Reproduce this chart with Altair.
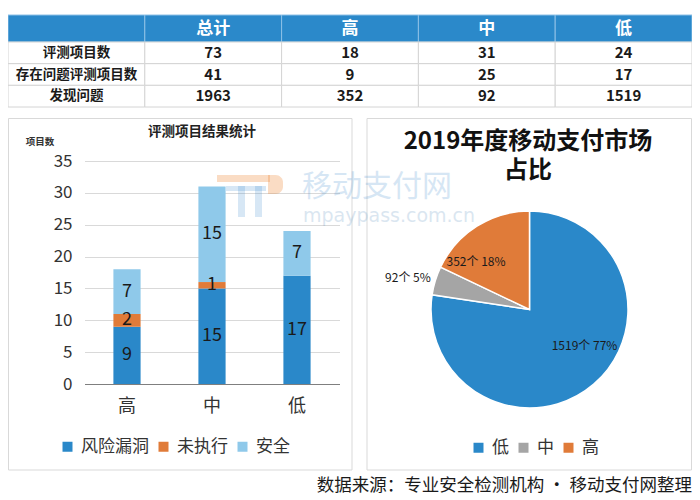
import altair as alt
import pandas as pd

FONT = "Noto Sans CJK SC"

# ---------------- data ----------------
table_header = ["", "总计", "高", "中", "低"]
table_row_labels = ["评测项目数", "存在问题评测项目数", "发现问题"]
table_total = [73, 41, 1963]
table_high = [18, 9, 352]
table_mid = [31, 25, 92]
table_low = [24, 17, 1519]

bar_levels = ["高", "中", "低"]
bar_series = ["风险漏洞", "未执行", "安全"]
bar_vuln = [9, 15, 17]
bar_unexec = [2, 1, 0]
bar_safe = [7, 15, 7]
bar_y_ticks = [0, 5, 10, 15, 20, 25, 30, 35]

pie_cats = ["低", "中", "高"]
pie_vals = [1519, 92, 352]

bar_title = "评测项目结果统计"
bar_y_title = "项目数"
pie_title_lines = ["2019年度移动支付市场", "占比"]
source_note = "数据来源：专业安全检测机构 • 移动支付网整理"
watermark_cn = "移动支付网"
watermark_en = "mpaypass.com.cn"

# ---------------- style / layout ----------------
W, H = 684, 490
BLUE = "#2A88C9"
ORANGE = "#E07B39"
LIGHT = "#8FC9EA"
GRAY = "#A5A5A5"
HEAD = "#2B89CA"
TXT = "#1a1a1a"

col_keys = [f"c{i}" for i in range(5)]
row_keys = [f"r{i}" for i in range(3)]

header_df = pd.DataFrame({"col": col_keys, "row": ["h"] * 5, "t": table_header})
cols_data = [table_row_labels, table_total, table_high, table_mid, table_low]
body_df = pd.DataFrame([
    {"col": col_keys[ci], "row": row_keys[ri], "t": str(cols_data[ci][ri]), "first": ci == 0}
    for ri in range(3) for ci in range(5)
])

def tx_band():
    return alt.X("col:N", scale=alt.Scale(type="band", domain=col_keys, range=[0, W],
                                          paddingInner=0, paddingOuter=0), axis=None)

def tx_point():
    return alt.X("col:N", scale=alt.Scale(type="point", domain=col_keys, range=[0, W],
                                          padding=0.5), axis=None)

HEAD_Y = [7, 34]
BODY_Y = [34, 99]

head_rect = alt.Chart(header_df).mark_rect(fill=HEAD, stroke="#8DC0E6", strokeWidth=1).encode(
    x=tx_band(),
    y=alt.Y("row:N", scale=alt.Scale(type="band", domain=["h"], range=HEAD_Y,
                                     paddingInner=0, paddingOuter=0), axis=None),
)
head_text = alt.Chart(header_df).mark_text(color="white", fontWeight="bold", fontSize=17,
                                           font=FONT, baseline="middle").encode(
    x=tx_point(),
    y=alt.Y("row:N", scale=alt.Scale(type="point", domain=["h"], range=HEAD_Y, padding=0.5), axis=None),
    text="t:N",
)
body_rect = alt.Chart(body_df).mark_rect(fill="white", stroke="#D4D4D4", strokeWidth=1).encode(
    x=tx_band(),
    y=alt.Y("row:N", scale=alt.Scale(type="band", domain=row_keys, range=BODY_Y,
                                     paddingInner=0, paddingOuter=0), axis=None),
)
body_text = alt.Chart(body_df).mark_text(color=TXT, fontWeight="bold",
                                         font=FONT, baseline="middle").encode(
    x=tx_point(),
    y=alt.Y("row:N", scale=alt.Scale(type="point", domain=row_keys, range=BODY_Y, padding=0.5), axis=None),
    text="t:N",
    size=alt.condition("datum.first", alt.value(13.5), alt.value(15)),
)

one = pd.DataFrame({"k": [0]})

def deco_rect(x1, x2, y1, y2, **kw):
    return alt.Chart(one).mark_rect(**kw).encode(
        x=alt.value(x1), x2=alt.value(x2), y=alt.value(y1), y2=alt.value(y2))

panel_bar = deco_rect(0.5, 344, 110.5, 462, fill="transparent", stroke="#D9D9D9", strokeWidth=1)
panel_pie = deco_rect(359, 683.5, 110.5, 462, fill="transparent", stroke="#D9D9D9", strokeWidth=1)

# ---------------- bar chart ----------------
series_vals = [bar_vuln, bar_unexec, bar_safe]
bar_df = pd.DataFrame([
    {"level": lv, "series": s, "value": series_vals[si][li], "sidx": si}
    for li, lv in enumerate(bar_levels) for si, s in enumerate(bar_series)
])

Y0, Y35 = 376, 153
bx_scale = dict(domain=bar_levels, range=[76.5, 331.5])

legend_common = dict(title=None, orient="none", direction="horizontal", symbolType="square",
                     symbolSize=100, symbolStrokeWidth=0, labelFontSize=17, labelFont=FONT,
                     labelColor="#333", labelOffset=5, columnPadding=6, padding=0)

bars = alt.Chart(bar_df).mark_bar().encode(
    x=alt.X("level:N", sort=bar_levels,
            scale=alt.Scale(type="band", paddingInner=0.68, paddingOuter=0.34, **bx_scale),
            axis=alt.Axis(orient="bottom", offset=Y0 - H, title=None, ticks=False, labelPadding=13,
                          labelFontSize=18, labelFont=FONT, labelColor="#333", labelAngle=0,
                          domainColor="#7F7F7F", grid=False)),
    y=alt.Y("value:Q", stack="zero",
            scale=alt.Scale(domain=[0, 35], range=[Y0, Y35], nice=False),
            axis=alt.Axis(orient="left", offset=-64, values=bar_y_ticks, title=None, ticks=False,
                          domain=False, labelPadding=0, labelFontSize=17, labelFont=FONT,
                          labelColor="#333", labelFlush=False, grid=True, gridColor="#D9D9D9")),
    color=alt.Color("series:N", scale=alt.Scale(domain=bar_series, range=[BLUE, ORANGE, LIGHT]),
                    legend=alt.Legend(legendX=51, legendY=430, **legend_common)),
    order=alt.Order("sidx:Q", sort="ascending"),
)

bar_labels = alt.Chart(bar_df).transform_stack(
    stack="value", groupby=["level"], as_=["y0", "y1"],
    sort=[alt.SortField("sidx", order="ascending")],
).transform_calculate(mid="(datum.y0 + datum.y1) / 2").transform_filter("datum.value > 0").mark_text(
    fontSize=18, font=FONT, color=TXT, baseline="middle").encode(
    x=alt.X("level:N", scale=alt.Scale(type="point", padding=0.5, **bx_scale), axis=None),
    y=alt.Y("mid:Q", scale=alt.Scale(domain=[0, 35], range=[Y0, Y35], nice=False), axis=None),
    text="value:Q",
)

bar_title_t = alt.Chart(pd.DataFrame({"t": [bar_title]})).mark_text(
    fontSize=13.5, fontWeight="bold", font=FONT, color="#222", baseline="middle").encode(
    x=alt.value(194), y=alt.value(124), text="t:N")
bar_ytitle_t = alt.Chart(pd.DataFrame({"t": [bar_y_title]})).mark_text(
    fontSize=9.5, fontWeight="bold", font=FONT, color="#333", baseline="middle").encode(
    x=alt.value(32), y=alt.value(134), text="t:N")

# ---------------- pie chart ----------------
total = sum(pie_vals)
pie_df = pd.DataFrame({
    "cat": pie_cats,
    "value": pie_vals,
    "idx": list(range(len(pie_cats))),
    "label": [f"{v}个 {round(v * 100 / total)}%" for v in pie_vals],
})
CX, CY = 521.5, 301.5
theta_scale = alt.Scale(domain=[0, total])

pie = alt.Chart(pie_df).mark_arc(outerRadius=98.5, stroke="white", strokeWidth=1.5).encode(
    theta=alt.Theta("value:Q", stack=True, scale=theta_scale),
    color=alt.Color("cat:N", scale=alt.Scale(domain=pie_cats, range=[BLUE, GRAY, ORANGE]),
                    legend=alt.Legend(legendX=462, legendY=431, **legend_common)),
    order=alt.Order("idx:Q", sort="ascending"),
    x=alt.value(CX), y=alt.value(CY),
)

def pie_label(cat, radius, dx, dy):
    return alt.Chart(pie_df).transform_window(
        cum="sum(value)", sort=[alt.SortField("idx", order="ascending")], frame=[None, 0]
    ).transform_calculate(mid="datum.cum - datum.value / 2").transform_filter(
        f"datum.cat == '{cat}'"
    ).mark_text(radius=radius, dx=dx, dy=dy, fontSize=12, font=FONT, color=TXT,
                baseline="middle").encode(
        theta=alt.Theta("mid:Q", scale=theta_scale),
        x=alt.value(CX), y=alt.value(CY),
        text="label:N",
    )

pie_lab_low = pie_label("低", 66, 12, -14)
pie_lab_mid = pie_label("中", 125, -2, 5)
pie_lab_high = pie_label("高", 72, -15, 13)

pie_title_t = alt.Chart(pd.DataFrame({"t": pie_title_lines, "i": [0, 1]})).mark_text(
    fontSize=24, fontWeight="bold", font=FONT, color="#111", baseline="middle").encode(
    x=alt.value(520),
    y=alt.Y("i:O", scale=alt.Scale(type="point", domain=[0, 1], range=[134, 163], padding=0), axis=None),
    text="t:N")

# ---------------- watermark & source ----------------
WM_BLUE = dict(fill="#4A90D0", opacity=0.22)
WM_ORANGE = dict(fill="#F08A3C", opacity=0.3)
logo = [
    deco_rect(209, 262, 167, 174, **WM_ORANGE),
    deco_rect(260, 275, 167, 186, cornerRadiusTopRight=8, cornerRadiusBottomRight=8, **WM_ORANGE),
    deco_rect(218, 258, 178, 183, **WM_BLUE),
    deco_rect(230, 237, 178, 209, **WM_BLUE),
    deco_rect(247, 254, 178, 209, **WM_BLUE),
]
wm_cn = alt.Chart(pd.DataFrame({"t": [watermark_cn]})).mark_text(
    fontSize=30, font=FONT, color="#4A90D0", opacity=0.22, baseline="middle", align="left").encode(
    x=alt.value(294), y=alt.value(179), text="t:N")
wm_en = alt.Chart(pd.DataFrame({"t": [watermark_en]})).mark_text(
    fontSize=19, font="DejaVu Sans", color="#5A8FC0", opacity=0.22, baseline="middle", align="left").encode(
    x=alt.value(295), y=alt.value(208), text="t:N")

source_t = alt.Chart(pd.DataFrame({"t": [source_note]})).mark_text(
    fontSize=17.5, font=FONT, color=TXT, baseline="middle", align="right").encode(
    x=alt.value(684), y=alt.value(478), text="t:N")

chart = alt.layer(
    bars, bar_labels, pie,
    head_rect, body_rect, head_text, body_text,
    panel_bar, panel_pie,
    bar_title_t, bar_ytitle_t,
    pie_lab_low, pie_lab_mid, pie_lab_high, pie_title_t,
    *logo, wm_cn, wm_en, source_t,
).resolve_scale(
    x="independent", y="independent", color="independent"
).properties(
    width=W, height=H, padding=0, autosize="none"
).configure(font=FONT).configure_view(stroke=None)

chart.save("out.html", embed_options={"renderer": "svg", "actions": False})
